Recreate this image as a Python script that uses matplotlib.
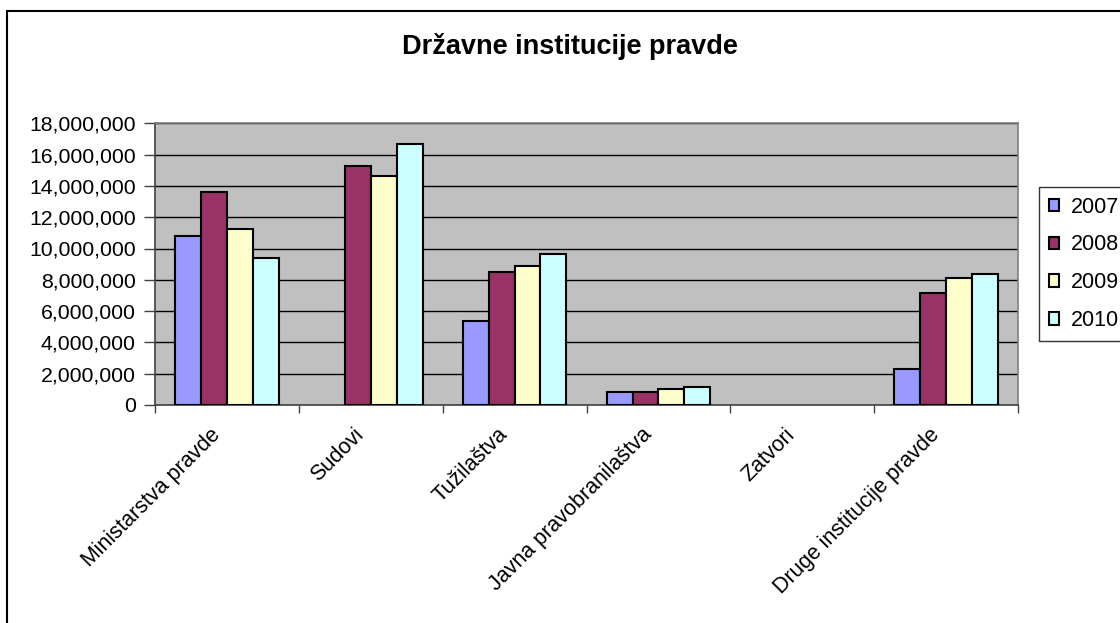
import matplotlib
matplotlib.use("Agg")
import matplotlib.pyplot as plt
import numpy as np
from matplotlib.patches import Rectangle
from matplotlib.ticker import FuncFormatter, MultipleLocator
from matplotlib.transforms import ScaledTranslation

categories = ["Ministarstva pravde", "Sudovi", "Tužilaštva", "Javna pravobranilaštva",
              "Zatvori", "Druge institucije pravde"]
years = ["2007", "2008", "2009", "2010"]
v2007 = [10800000, 0, 5340000, 850000, 0, 2280000]
v2008 = [13640000, 15270000, 8510000, 850000, 0, 7150000]
v2009 = [11230000, 14630000, 8910000, 1000000, 0, 8130000]
v2010 = [9420000, 16700000, 9660000, 1150000, 0, 8400000]
series = [v2007, v2008, v2009, v2010]
colors = ["#9999FF", "#993366", "#FFFFCC", "#CCFFFF"]

plt.rcParams['font.family'] = ['Liberation Sans', 'DejaVu Sans']

fig = plt.figure(figsize=(11.2, 6.23), dpi=100)
W, H = 1120, 623
ax = fig.add_axes([155 / W, (H - 405) / H, 863 / W, (405 - 123.3) / H])
ax.set_facecolor("#C0C0C0")

n = len(categories)
x = np.arange(n)
bw = 0.18
for i, (vals, c, lab) in enumerate(zip(series, colors, years)):
    lws = [1.5 if v > 0 else 0 for v in vals]
    ax.bar(x + (i - 1.5) * bw, vals, width=bw, color=c, edgecolor="black",
           linewidth=lws, label=lab, zorder=3)

ax.set_xlim(-0.5, n - 0.5)
ax.set_ylim(0, 18000000)
ax.yaxis.set_major_locator(MultipleLocator(2000000))
ax.yaxis.set_major_formatter(FuncFormatter(lambda v, p: f"{int(v):,}"))
ax.grid(axis="y", color="black", linewidth=1.0, zorder=1)
ax.set_axisbelow(True)

ax.set_xticks(np.arange(-0.5, n, 1.0))
ax.set_xticklabels([])
ax.set_xticks(x, minor=True)
ax.set_xticklabels(categories, minor=True, rotation=45, ha="right", va="center",
                   rotation_mode="anchor", fontsize=15.5)
ax.tick_params(axis="x", which="minor", length=0, pad=19)
ax.tick_params(axis="x", which="major", length=6, width=1, color="#404040")
ax.tick_params(axis="y", length=8, width=1, pad=6, labelsize=15.3, color="#404040")
off = ScaledTranslation(-10 / 100, 0, fig.dpi_scale_trans)
for lbl in ax.get_xticklabels(minor=True):
    lbl.set_transform(lbl.get_transform() + off)

for s in ["top", "right"]:
    ax.spines[s].set_color("#808080")
    ax.spines[s].set_linewidth(1.2)
for s in ["left", "bottom"]:
    ax.spines[s].set_color("#404040")
    ax.spines[s].set_linewidth(1.2)

fig.text(570 / W, 1 - 47 / H, "Državne institucije pravde", ha="center", va="center",
         fontsize=19.5, fontweight="bold")

leg = ax.legend(loc="upper left", bbox_to_anchor=(1039 / W, 1 - 187 / H),
                bbox_transform=fig.transFigure, fontsize=15.5, frameon=True,
                fancybox=False, edgecolor="black", handlelength=0.5, handleheight=0.5,
                handletextpad=0.55, labelspacing=0.78, borderpad=0.45, borderaxespad=0)
leg.get_frame().set_linewidth(1.0)

fig.patches.append(Rectangle((7 / W, -0.1), 1.2, 1 - 11 / H + 0.1, transform=fig.transFigure,
                             fill=False, edgecolor="black", linewidth=1.5))

fig.savefig("out.png", dpi=100)
